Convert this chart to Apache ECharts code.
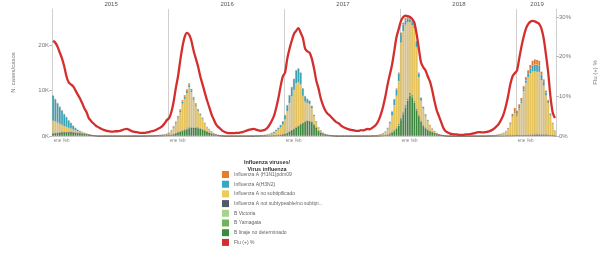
<!DOCTYPE html>
<html>
<head>
<meta charset="utf-8">
<script src="https://cdn.jsdelivr.net/npm/echarts@6/dist/echarts.min.js"></script>
<style>
html, body { margin: 0; padding: 0; background: #fff; }
#echarts { width: 606px; height: 253px; }
</style>
</head>
<body>
<div id="echarts"></div>
<script>
// semanas epidemiologicas por año (2019 parcial)
var years = [2015, 2016, 2017, 2018, 2019];
var weeksInYear = [52, 52, 52, 52, 18];
var monthLabels = { 3: 'ene', 7: 'feb' };   // semana -> etiqueta
var monthStartWeeks = [1, 5, 9, 14, 18, 22, 27, 31, 35, 40, 44, 48];

// casos en miles (K), filas de 13 semanas
var h1n1 = [
  // 2015
  0.12,0.12,0.12,0.12,0.12,0.12,0.08,0.08,0.05,0.05,0.04,0.03,0.02,
  0.02,0.01,0.01,0,0,0,0,0,0,0,0,0,0,
  0,0,0,0,0,0,0,0,0,0,0,0,0,
  0,0,0,0,0,0,0,0,0,0,0,0,0,
  // 2016
  0.05,0.1,0.15,0.2,0.25,0.3,0.35,0.35,0.35,0.35,0.3,0.25,0.2,
  0.15,0.1,0.08,0.05,0.03,0,0,0,0,0,0,0,0,
  0,0,0,0,0,0,0,0,0,0,0,0,0,
  0,0,0,0,0,0,0,0,0,0,0,0,0,
  // 2017
  0.05,0.05,0.05,0.05,0.05,0.05,0.05,0.05,0.05,0.05,0.05,0.05,0,
  0,0,0,0,0,0,0,0,0,0,0,0,0,
  0,0,0,0,0,0,0,0,0,0,0,0,0,
  0,0,0,0,0,0,0.03,0.05,0.1,0.15,0.2,0.25,0.3,
  // 2018
  0.35,0.4,0.5,0.6,0.5,0.35,0.25,0.2,0.15,0.1,0.08,0.05,0,
  0,0,0,0,0,0,0,0,0,0,0,0,0,
  0,0,0,0,0,0,0,0,0,0,0,0,0,
  0,0,0,0,0,0,0.03,0.06,0.1,0.18,0.3,0.6,0.9,
  // 2019
  0.9,0.9,0.8,0.7,0.7,0.8,0.9,1.1,1.2,1.1,1.0,0.7,0.5,
  0.35,0.25,0.15,0.08,0.04
];

var h3n2 = [
  // 2015
  5.5,4.9,4.25,3.7,3.15,2.6,2.15,1.65,1.25,0.85,0.57,0.34,0.2,
  0.15,0.1,0.05,0.03,0.01,0,0,0,0,0,0,0,0,
  0,0,0,0,0,0,0,0,0,0,0,0,0,
  0,0,0,0,0,0,0,0.01,0.01,0.02,0.03,0.05,0.08,
  // 2016
  0.15,0.2,0.25,0.3,0.35,0.4,0.45,0.5,0.5,0.5,0.45,0.4,0.35,
  0.3,0.25,0.2,0.15,0.1,0.08,0.05,0.03,0,0,0,0,0,
  0,0,0,0,0,0,0,0,0,0,0,0,0,
  0,0,0,0,0.05,0.07,0.1,0.15,0.2,0.3,0.4,0.55,0.7,
  // 2017
  0.9,1.3,1.7,2.0,2.4,2.8,3.0,2.6,1.6,1.2,0.9,0.7,0.5,
  0.3,0.18,0.1,0.05,0,0,0,0,0,0,0,0,0,
  0,0,0,0,0,0,0,0,0,0,0,0,0,
  0,0,0,0,0,0.05,0.1,0.2,0.4,0.8,1.2,1.4,1.6,
  // 2018
  1.8,1.5,1.0,0.8,0.7,0.8,1.0,1.2,0.9,0.6,0.4,0.3,0.2,
  0.1,0.05,0,0,0,0,0,0,0,0,0,0,0,
  0,0,0,0,0,0,0,0,0,0,0,0,0,
  0,0,0,0,0,0,0,0.03,0.05,0.08,0.12,0.2,0.25,
  // 2019
  0.25,0.3,0.35,0.45,0.6,0.8,1.0,1.3,1.5,1.6,1.5,1.2,0.9,
  0.7,0.5,0.35,0.2,0.08
];

var aNoSubtyped = [
  // 2015
  2.8,2.5,2.2,1.9,1.6,1.3,1.1,0.9,0.75,0.6,0.45,0.35,0.25,
  0.2,0.15,0.1,0.07,0.04,0.03,0.02,0,0,0,0,0,0,
  0,0,0,0,0,0,0,0,0,0,0,0,0,
  0,0,0.01,0.01,0.01,0.02,0.02,0.03,0.04,0.06,0.08,0.12,0.18,
  // 2016
  0.3,0.7,1.4,2.1,3.0,4.2,5.85,6.65,7.75,8.85,7.65,5.95,4.65,
  3.65,2.85,2.22,1.45,0.92,0.67,0.4,0.22,0.12,0.1,0.05,0.02,0,
  0,0,0,0,0,0,0,0,0,0,0,0,0,
  0.03,0.04,0.06,0.08,0.08,0.14,0.24,0.36,0.53,0.78,1.13,1.53,2.12,
  // 2017
  3.2,4.75,6.25,7.45,8.55,9.75,9.65,8.75,5.95,4.35,3.85,3.75,3.0,
  1.8,1.12,0.65,0.4,0.2,0.1,0.1,0.06,0.03,0.01,0,0,0,
  0,0,0,0,0,0,0,0,0,0,0,0,0,
  0.03,0.05,0.08,0.15,0.25,0.41,0.68,1.22,2.1,3.6,5.45,6.95,9.45,
  // 2018
  16.75,17.85,17.7,16.8,15.6,15.3,15.95,13.55,8.25,4.35,3.62,2.57,1.9,
  1.25,0.7,0.35,0.2,0.1,0.05,0.02,0.01,0,0,0,0,0,
  0,0,0,0,0,0,0,0,0,0,0,0,0,
  0.03,0.04,0.06,0.09,0.13,0.21,0.32,0.49,0.8,1.38,2.41,3.92,4.85,
  // 2019
  4.25,5.6,7.03,9.61,11.44,12.62,13.5,13.88,13.86,13.75,13.75,11.96,10.78,
  8.65,6.97,4.25,2.47,0.98
];

var aNotSubtypeable = [
  // 2015
  0.08,0.08,0.08,0.08,0.08,0.08,0.07,0.07,0.05,0.05,0.04,0.03,0.03,
  0.03,0.02,0.02,0,0,0,0,0,0,0,0,0,0,
  0,0,0,0,0,0,0,0,0,0,0,0,0,
  0,0,0.01,0.01,0.02,0.02,0.03,0.04,0.05,0.06,0.08,0.1,0.12,
  // 2016
  0.1,0.1,0.1,0.1,0.1,0.1,0.1,0.1,0.1,0.1,0.1,0.1,0.1,
  0.1,0.1,0.1,0.05,0.05,0.05,0.05,0.05,0.05,0,0,0,0,
  0,0,0,0,0,0,0,0,0,0,0,0,0,
  0.02,0.03,0.04,0.05,0.05,0.06,0.07,0.08,0.09,0.1,0.1,0.1,0.1,
  // 2017
  0.1,0.1,0.1,0.1,0.1,0.1,0.1,0.1,0.1,0.1,0.1,0.1,0.1,
  0.1,0.1,0.05,0.05,0.05,0.05,0,0,0,0,0,0,0,
  0,0,0,0,0,0,0,0,0,0,0,0,0,
  0.02,0.03,0.04,0.05,0.05,0.06,0.07,0.08,0.1,0.1,0.1,0.1,0.1,
  // 2018
  0.1,0.1,0.1,0.1,0.1,0.1,0.1,0.1,0.1,0.1,0.1,0.1,0.05,
  0.05,0.05,0.05,0,0,0,0,0,0,0,0,0,0,
  0,0,0,0,0,0,0,0,0,0,0,0,0,
  0.02,0.03,0.04,0.05,0.05,0.06,0.07,0.08,0.1,0.1,0.1,0.1,0.1,
  // 2019
  0.1,0.1,0.1,0.1,0.1,0.1,0.1,0.1,0.1,0.1,0.1,0.1,0.1,
  0.1,0.1,0.1,0.05,0.05
];

var bVictoria = [
  // 2015
  0,0,0,0,0,0,0,0,0,0,0,0,0,
  0,0,0,0,0,0,0,0,0,0,0,0,0,
  0,0,0,0,0,0,0,0,0,0,0,0,0,
  0,0,0,0,0,0,0,0,0,0,0,0,0,
  // 2016
  0,0,0,0,0,0,0.05,0.1,0.1,0.1,0.1,0.1,0.1,
  0.1,0.1,0.1,0.05,0,0,0,0,0,0,0,0,0,
  0,0,0,0,0,0,0,0,0,0,0,0,0,
  0,0,0,0,0,0,0,0,0,0,0,0,0,
  // 2017
  0,0,0,0,0,0,0,0,0,0,0,0,0,
  0,0,0,0,0,0,0,0,0,0,0,0,0,
  0,0,0,0,0,0,0,0,0,0,0,0,0,
  0,0,0,0,0,0,0,0,0,0,0,0,0,
  // 2018
  0,0,0,0,0,0,0,0,0,0,0,0,0,
  0,0,0,0,0,0,0,0,0,0,0,0,0,
  0,0,0,0,0,0,0,0,0,0,0,0,0,
  0,0,0,0,0,0,0,0,0,0,0,0,0,
  // 2019
  0,0,0,0,0,0,0,0,0,0,0,0,0,
  0,0,0,0,0
];

var bYamagata = [
  // 2015
  0,0,0,0,0,0,0,0,0,0,0,0,0,
  0,0,0,0,0,0,0,0,0,0,0,0,0,
  0,0,0,0,0,0,0,0,0,0,0,0,0,
  0,0,0,0,0,0,0,0,0,0,0,0,0,
  // 2016
  0,0,0,0,0,0,0,0,0,0,0,0,0,
  0,0,0,0,0,0,0,0,0,0,0,0,0,
  0,0,0,0,0,0,0,0,0,0,0,0,0,
  0,0,0,0,0,0,0,0,0,0,0,0,0,
  // 2017
  0,0,0,0,0,0,0,0,0,0,0,0,0,
  0,0,0,0,0,0,0,0,0,0,0,0,0,
  0,0,0,0,0,0,0,0,0,0,0,0,0,
  0,0,0,0,0,0,0,0,0.05,0.1,0.15,0.2,0.25,
  // 2018
  0.3,0.35,0.4,0.4,0.4,0.35,0.3,0.25,0.2,0.15,0.1,0.08,0.05,
  0,0,0,0,0,0,0,0,0,0,0,0,0,
  0,0,0,0,0,0,0,0,0,0,0,0,0,
  0,0,0,0,0,0,0,0,0,0,0,0,0,
  // 2019
  0,0,0,0,0,0,0,0,0,0,0,0,0,
  0,0,0,0,0
];

var bNotDetermined = [
  // 2015
  0.5,0.6,0.65,0.7,0.75,0.8,0.8,0.8,0.8,0.75,0.7,0.65,0.6,
  0.5,0.42,0.32,0.22,0.14,0.08,0.04,0,0,0,0,0,0,
  0,0,0,0,0,0,0,0,0,0,0,0,0,
  0,0,0,0.01,0.01,0.01,0.02,0.02,0.03,0.04,0.06,0.08,0.12,
  // 2016
  0.1,0.2,0.3,0.5,0.7,0.9,1.1,1.3,1.5,1.7,1.8,1.8,1.8,
  1.7,1.6,1.4,1.15,0.9,0.7,0.5,0.3,0.18,0.1,0.05,0.03,0,
  0,0,0,0,0,0,0,0,0,0,0,0,0,
  0,0,0,0,0.02,0.03,0.04,0.06,0.08,0.12,0.17,0.22,0.28,
  // 2017
  0.35,0.6,0.9,1.2,1.5,1.8,2.1,2.5,2.8,3.1,3.3,3.2,3.0,
  2.4,1.8,1.1,0.7,0.4,0.25,0.15,0.09,0.05,0.03,0,0,0,
  0,0,0,0,0,0,0,0,0,0,0,0,0,
  0,0,0,0,0.05,0.08,0.12,0.25,0.45,0.75,1.1,1.6,2.3,
  // 2018
  3.5,4.8,6.3,7.8,9.0,8.6,7.4,5.7,4.4,3.2,2.2,1.7,1.3,
  1.0,0.8,0.6,0.4,0.25,0.15,0.08,0.04,0,0,0,0,0,
  0,0,0,0,0,0,0,0,0,0,0,0,0,
  0,0,0,0,0.02,0.03,0.03,0.04,0.05,0.06,0.07,0.08,0.1,
  // 2019
  0.1,0.1,0.12,0.14,0.16,0.18,0.2,0.22,0.24,0.25,0.25,0.24,0.22,
  0.2,0.18,0.15,0.1,0.05
];

// % positividad
var fluPositive = [
  // 2015
  24,23.5,22.5,21,19.5,17.5,15,13.5,13,12.5,11.5,10.5,9.5,
  8.3,7,6,4.5,3.8,3.2,2.7,2.3,2,1.7,1.5,1.3,1.2,
  1.1,1.1,1.2,1.2,1.3,1.5,1.7,1.8,1.6,1.3,1.1,1,0.9,
  0.8,0.8,0.8,0.9,1,1.2,1.3,1.5,1.8,2.1,2.5,3.2,4,
  // 2016
  4.5,6,8.5,12,15,19,22.5,25,26,25.5,24,21.5,19.5,
  17.5,15,13,11,9,7.3,5.5,4.2,3,2.3,1.8,1.3,1,
  0.8,0.7,0.7,0.7,0.8,0.8,0.9,1,1.2,1.4,1.6,1.7,1.8,
  1.6,1.4,1.3,1.4,1.6,2,2.8,3.8,5,7,9.5,12.5,15,
  // 2017
  16,19.5,22,24,25.7,26.5,27.2,26,24.7,22,21.3,21,19.5,
  17,14,12,9.5,7.8,6.5,5.7,5.2,4.6,4,3.5,3.2,2.7,
  2.3,2,1.8,1.6,1.5,1.4,1.3,1.3,1.5,1.4,1.6,1.8,1.7,
  2,2.4,3,4,5.5,7.5,10,13,15.5,18,21.5,25,27,
  // 2018
  29,30,30.3,30.2,30,29.5,28.5,25.7,22,18.5,17.3,16.5,15,
  13.7,11.5,8.8,6.5,5,3.5,2,1.2,0.9,0.6,0.5,0.4,0.4,
  0.3,0.3,0.3,0.4,0.4,0.5,0.6,0.7,0.9,1,0.9,0.9,1,
  1.1,1.3,1.6,2,2.5,3.2,4.2,5.5,7.5,10,13,15,15.8,
  // 2019
  16.5,19.5,22.5,25,27,28.2,28.8,29,28.9,28.6,28.2,27,24.5,
  20.5,16,10,6,4.5
];

var weeks = [], weekNo = [], weekYear = [];
years.forEach(function (y, k) {
  for (var w = 1; w <= weeksInYear[k]; w++) {
    weeks.push(y + '-S' + (w < 10 ? '0' + w : w));
    weekNo.push(w);
    weekYear.push(y);
  }
});
var yearMid = {};
years.forEach(function (y, k) { yearMid[y] = Math.floor(weeksInYear[k] / 2) + 1; });

var myChart = echarts.init(document.getElementById('echarts'));

var gridLine = '#cfcfcf';
var txt = '#777';

var barSeries = [
  // de abajo hacia arriba
  {name: 'B linaje no determinado', data: bNotDetermined, color: '#3b8b3f'},
  {name: 'B Yamagata', data: bYamagata, color: '#6db45c'},
  {name: 'B Victoria', data: bVictoria, color: '#a6d48f'},
  {name: 'Influenza A not subtypeable/no subtipificable', data: aNotSubtypeable, color: '#4e5b68'},
  {name: 'Influenza A no subtipificado', data: aNoSubtyped, color: '#ecca5e'},
  {name: 'Influenza A(H3N2)', data: h3n2, color: '#36a8bf'},
  {name: 'Influenza A (H1N1)pdm09', data: h1n1, color: '#ea7a2c'}
].map(function (s) {
  return {
    name: s.name,
    type: 'bar',
    stack: 'virus',
    data: s.data,
    barCategoryGap: '8%',
    itemStyle: {color: s.color, borderColor: 'rgba(90,80,60,0.3)', borderWidth: 0.4},
    emphasis: {disabled: true}
  };
});

var option = {
    animation: false,
    textStyle: {fontFamily: 'Liberation Sans, Arial, sans-serif'},
    title: {
        text: 'Influenza viruses/\nVirus influenza',
        left: 262,
        top: 154,
        textAlign: 'center',
        textStyle: {fontSize: 5.5, fontWeight: 'bold', color: '#333', lineHeight: 7}
    },
    legend: {
        orient: 'vertical',
        left: 222,
        top: 171,
        height: 82,
        padding: 0,
        itemWidth: 7,
        itemHeight: 7,
        itemGap: 2.7,
        icon: 'rect',
        itemStyle: {borderWidth: 0},
        textStyle: {fontSize: 5, color: '#666', lineHeight: 7},
        data: ['Influenza A (H1N1)pdm09', 'Influenza A(H3N2)', 'Influenza A no subtipificado',
               'Influenza A not subtypeable/no subtipificable', 'B Victoria', 'B Yamagata',
               'B linaje no determinado', 'Flu (+) %'],
        formatter: function (n) { return n.length > 40 ? n.slice(0, 38) + '...' : n; }
    },
    grid: {left: 52, right: 43, top: 9, height: 127},
    xAxis: [
        {
            type: 'category',
            data: weeks,
            position: 'bottom',
            axisLine: {lineStyle: {color: gridLine}},
            axisTick: {
                interval: function (i) { return monthStartWeeks.indexOf(weekNo[i]) > 0; },
                length: 2,
                lineStyle: {color: '#bbb'}
            },
            axisLabel: {
                interval: function (i) { return monthLabels[weekNo[i]] !== undefined; },
                formatter: function (v, i) { return monthLabels[weekNo[i]] || ''; },
                fontSize: 4.5,
                color: '#888',
                margin: 2
            },
            splitLine: {
                show: true,
                interval: function (i) { return weekNo[i] === 1 && i > 0; },
                lineStyle: {color: gridLine}
            }
        },
        {
            type: 'category',
            data: weeks,
            position: 'top',
            axisLine: {lineStyle: {color: gridLine}},
            axisTick: {
                interval: function (i) { return weekNo[i] === 1; },
                length: 9,
                lineStyle: {color: gridLine}
            },
            axisLabel: {
                interval: function (i) { return weekNo[i] === yearMid[weekYear[i]]; },
                formatter: function (v, i) { return String(weekYear[i]); },
                fontSize: 6,
                color: '#555',
                margin: 2
            }
        },
        {
            type: 'category',
            data: weeks,
            position: 'bottom',
            axisLine: {show: false},
            axisTick: {
                interval: function (i) { return weekNo[i] === 1 && i > 0; },
                length: 6,
                lineStyle: {color: gridLine}
            },
            axisLabel: {show: false}
        }
    ],
    yAxis: [
        {
            type: 'value',
            min: 0,
            max: 28,
            interval: 10,
            position: 'left',
            name: 'N. cases/casos',
            nameLocation: 'middle',
            nameGap: 36,
            nameTextStyle: {fontSize: 6, color: txt},
            axisLine: {show: true, lineStyle: {color: gridLine}},
            axisTick: {show: true, length: 3, lineStyle: {color: '#bbb'}},
            axisLabel: {formatter: '{value}K', fontSize: 6, color: txt, margin: 3, showMaxLabel: false},
            splitLine: {show: false}
        },
        {
            type: 'value',
            min: 0,
            max: 32,
            interval: 10,
            position: 'right',
            name: 'Flu (+) %',
            nameLocation: 'middle',
            nameGap: 36,
            nameTextStyle: {fontSize: 6, color: txt},
            axisLine: {show: true, lineStyle: {color: gridLine}},
            axisTick: {show: true, length: 3, lineStyle: {color: '#bbb'}},
            axisLabel: {formatter: '{value}%', fontSize: 6, color: txt, margin: 3, showMaxLabel: false},
            splitLine: {show: false}
        }
    ],
    series: barSeries.concat([
        {
            name: 'Flu (+) %',
            type: 'line',
            yAxisIndex: 1,
            data: fluPositive,
            symbol: 'none',
            smooth: 0.3,
            lineStyle: {width: 2.3, color: '#d42f2f'},
            itemStyle: {color: '#d42f2f'},
            emphasis: {disabled: true},
            z: 5
        }
    ])
};

myChart.setOption(option);
</script>
</body>
</html>
